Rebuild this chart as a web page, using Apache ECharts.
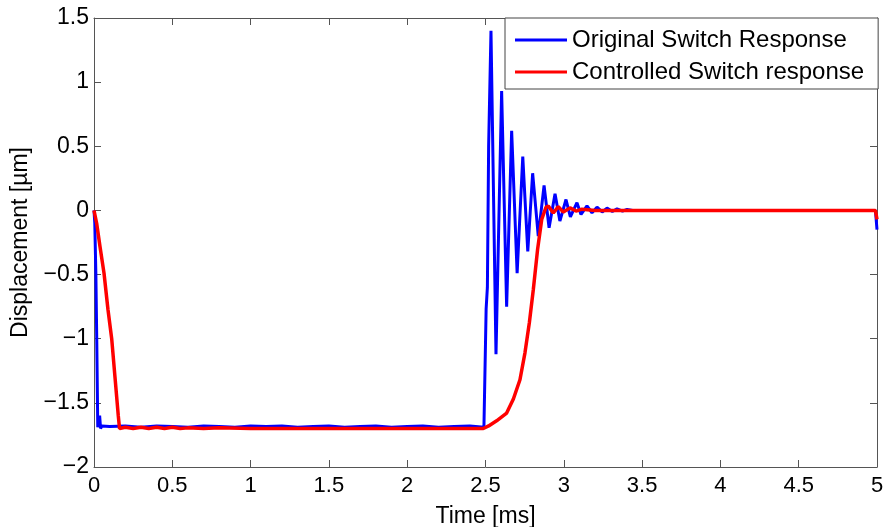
<!DOCTYPE html>
<html>
<head>
<meta charset="utf-8">
<script src="https://cdn.jsdelivr.net/npm/echarts@6/dist/echarts.min.js"></script>
<style>
html,body{margin:0;padding:0;background:#fff;}
#c{width:884px;height:527px;}
</style>
</head>
<body>
<div id="c"></div>
<script>
// ---- Data ----
var xTicks = [0, 0.5, 1, 1.5, 2, 2.5, 3, 3.5, 4, 4.5, 5];
var yTicks = [-2, -1.5, -1, -0.5, 0, 0.5, 1, 1.5];

var seriesNames = ['Original Switch Response', 'Controlled Switch response'];

// Original switch response (blue)
var blueT = [0, 0.005, 0.012, 0.018, 0.024, 0.03, 0.036, 0.042, 0.05,
  0.1, 0.2, 0.3, 0.4, 0.5, 0.6, 0.7, 0.8, 0.9, 1.0, 1.1, 1.2, 1.3, 1.4, 1.5, 1.6, 1.7, 1.8, 1.9, 2.0, 2.1, 2.2, 2.3, 2.4, 2.49,
  2.5, 2.504, 2.512, 2.52, 2.535,
  2.567, 2.603, 2.635, 2.667, 2.702, 2.738, 2.770, 2.801, 2.837, 2.874, 2.906, 2.944, 2.975, 3.014, 3.042, 3.084, 3.110, 3.148, 3.180, 3.212, 3.245, 3.276, 3.310, 3.340, 3.375, 3.404, 3.44,
  3.6, 4.0, 4.5, 4.99, 5.0];
var blueV = [0, -0.1, -0.5, -1.05, -1.69, -1.70, -1.6, -1.70, -1.68,
  -1.685, -1.68, -1.69, -1.68, -1.685, -1.69, -1.68, -1.685, -1.69, -1.68, -1.685, -1.68, -1.69, -1.685, -1.68, -1.69, -1.685, -1.68, -1.69, -1.685, -1.68, -1.69, -1.685, -1.68, -1.69,
  -1.68, -0.77, -0.6, 0.5, 1.40,
  -1.12, 0.93, -0.75, 0.62, -0.49, 0.42, -0.32, 0.29, -0.20, 0.195, -0.135, 0.13, -0.083, 0.085, -0.05, 0.06, -0.031, 0.035, -0.018, 0.025, -0.012, 0.018, -0.008, 0.012, -0.005, 0.008, 0,
  0, 0, 0, 0, -0.15];

// Controlled switch response (red)
var redT = [0, 0.017, 0.038, 0.064, 0.089, 0.113, 0.134, 0.155, 0.163,
  0.2, 0.25, 0.3, 0.35, 0.4, 0.45, 0.5, 0.55, 0.6, 0.7, 0.8, 1.0, 1.5, 2.0, 2.486,
  2.52, 2.571, 2.635, 2.678, 2.720, 2.752, 2.780, 2.805, 2.833, 2.859, 2.886, 2.901, 2.933, 2.965, 2.997, 3.04, 3.078, 3.116, 3.2,
  3.6, 4.0, 4.5, 4.99, 5.0];
var redV = [0, -0.1, -0.28, -0.49, -0.77, -1.0, -1.3, -1.6, -1.70,
  -1.69, -1.70, -1.69, -1.70, -1.69, -1.70, -1.69, -1.70, -1.695, -1.70, -1.695, -1.70, -1.70, -1.70, -1.70,
  -1.68, -1.64, -1.58, -1.47, -1.32, -1.11, -0.875, -0.62, -0.30, -0.07, 0.025, 0.034, -0.02, 0.03, -0.013, 0.02, -0.005, 0.01, 0,
  0, 0, 0, 0, -0.07];

function pairs(t, v) {
  var out = [];
  for (var i = 0; i < t.length; i++) out.push([t[i], v[i]]);
  return out;
}

var axisColor = '#555';
var fontFam = '"Liberation Sans", Arial, sans-serif';

var chart = echarts.init(document.getElementById('c'), null, {renderer: 'canvas'});
chart.setOption({
  animation: false,
  backgroundColor: '#fff',
  grid: {left: 94, right: 7, top: 18, bottom: 60, containLabel: false, outerBoundsMode: 'none'},
  legend: {
    data: seriesNames,
    orient: 'vertical',
    left: 505,
    top: 18,
    icon: 'rect',
    itemWidth: 52,
    itemHeight: 3,
    itemGap: 8,
    padding: [10, 14, 5, 10],
    borderColor: '#444',
    borderWidth: 1,
    backgroundColor: '#fff',
    textStyle: {fontSize: 24, color: '#000', fontFamily: fontFam}
  },
  xAxis: [{
    type: 'value', min: xTicks[0], max: xTicks[xTicks.length - 1], interval: 0.5,
    name: 'Time [ms]', nameLocation: 'middle', nameGap: 38,
    nameTextStyle: {fontSize: 23, color: '#000', fontFamily: fontFam},
    axisLine: {show: true, onZero: false, lineStyle: {color: axisColor, width: 1}},
    axisTick: {show: true, inside: true, length: 7, lineStyle: {color: axisColor}},
    axisLabel: {fontSize: 22, color: '#000', margin: 8, fontFamily: fontFam},
    splitLine: {show: false}
  }, {
    type: 'value', position: 'top', min: xTicks[0], max: xTicks[xTicks.length - 1], interval: 0.5,
    axisLine: {show: true, onZero: false, lineStyle: {color: axisColor, width: 1}},
    axisTick: {show: true, inside: true, length: 7, lineStyle: {color: axisColor}},
    axisLabel: {show: false},
    splitLine: {show: false}
  }],
  yAxis: [{
    type: 'value', min: yTicks[0], max: yTicks[yTicks.length - 1], interval: 0.5,
    name: 'Displacement [µm]', nameLocation: 'middle', nameGap: 62, nameRotate: 90,
    nameTextStyle: {fontSize: 23, color: '#000', fontFamily: fontFam},
    axisLine: {show: true, onZero: false, lineStyle: {color: axisColor, width: 1}},
    axisTick: {show: true, inside: true, length: 7, lineStyle: {color: axisColor}},
    axisLabel: {fontSize: 23, color: '#000', margin: 5, fontFamily: fontFam,
      formatter: function (v) { return String(v).replace('-', '\u2212'); }},
    splitLine: {show: false}
  }, {
    type: 'value', position: 'right', min: yTicks[0], max: yTicks[yTicks.length - 1], interval: 0.5,
    axisLine: {show: true, onZero: false, lineStyle: {color: axisColor, width: 1}},
    axisTick: {show: true, inside: true, length: 7, lineStyle: {color: axisColor}},
    axisLabel: {show: false},
    splitLine: {show: false}
  }],
  series: [{
    name: seriesNames[0], type: 'line', xAxisIndex: 0, yAxisIndex: 0,
    data: pairs(blueT, blueV), showSymbol: false, symbol: 'none',
    lineStyle: {color: '#0000ff', width: 3}, itemStyle: {color: '#0000ff'}, z: 2
  }, {
    name: seriesNames[1], type: 'line', xAxisIndex: 0, yAxisIndex: 0,
    data: pairs(redT, redV), showSymbol: false, symbol: 'none',
    lineStyle: {color: '#ff0000', width: 3.5}, itemStyle: {color: '#ff0000'}, z: 3
  }]
});
</script>
</body>
</html>
